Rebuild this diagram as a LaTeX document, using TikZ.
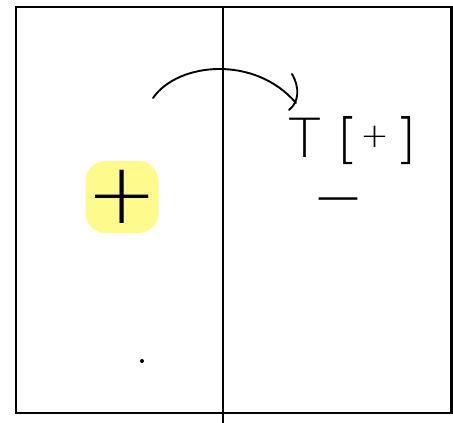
\documentclass[tikz,border=0pt]{standalone}
\usepackage{fontspec}
\newfontfamily\pen{DejaVu Sans ExtraLight}
\definecolor{hlyellow}{RGB}{255,250,140}
\begin{document}
\begin{tikzpicture}[x=1pt,y=-1pt,
  frame/.style={line width=2.4pt},
  divider/.style={line width=1.7pt},
  stroke/.style={line width=1.9pt, line cap=round},
  hl/.style={fill=hlyellow, rounded corners=20pt, minimum width=73pt, minimum height=72pt, inner sep=0pt, font=\pen\fontsize{85}{85}\selectfont},
  handtext/.style={inner sep=0pt, font=\pen\fontsize{54}{54}\selectfont},
  dotmark/.style={circle, fill=black, inner sep=0pt, minimum size=4pt}]
\useasboundingbox (0,0) rectangle (453,423);
\draw[frame] (16,7) rectangle (451.5,413);
\draw[divider] (223,7) -- (223,423);
\node[hl] (plusbox) at (122,197) {+};
\node[handtext, anchor=base west] (label) at (283,157)
  {\makebox[43pt]{T}\hspace{17pt}\makebox[9pt]{[}\hspace{14pt}\makebox[17pt]{\fontsize{34}{34}\selectfont\raisebox{9.5pt}{+}}\hspace{17pt}\makebox[11pt]{]}};
\node[handtext, font=\pen\fontsize{62}{62}\selectfont, anchor=base] (minus) at (338,218) {−};
\node[dotmark] (dot) at (142,361) {};
\coordinate (arcstart) at (153,98);
\coordinate (arcend) at (296,103);
\draw[stroke] (arcstart) .. controls (178,62) and (255,55) .. (arcend);
\draw[stroke] (292,74) .. controls (300,88) and (299,102) .. (289,110);
\end{tikzpicture}
\end{document}
